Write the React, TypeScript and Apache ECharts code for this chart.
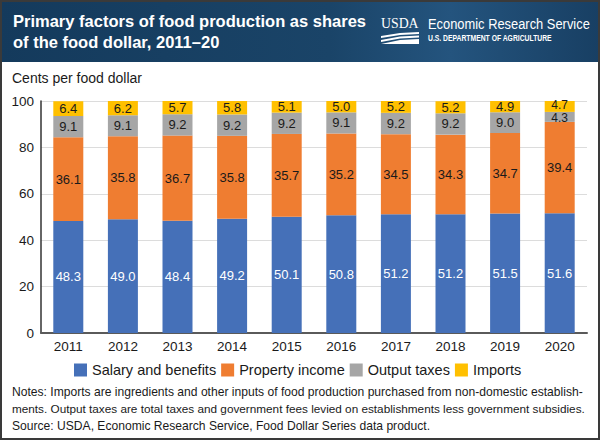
import React, { useEffect, useRef } from "react";
import * as echarts from "echarts";

const years = ["2011", "2012", "2013", "2014", "2015", "2016", "2017", "2018", "2019", "2020"];
const salary = [48.3, 49.0, 48.4, 49.2, 50.1, 50.8, 51.2, 51.2, 51.5, 51.6];
const property = [36.1, 35.8, 36.7, 35.8, 35.7, 35.2, 34.5, 34.3, 34.7, 39.4];
const outputTaxes = [9.1, 9.1, 9.2, 9.2, 9.2, 9.1, 9.2, 9.2, 9.0, 4.3];
const imports = [6.4, 6.2, 5.7, 5.8, 5.1, 5.0, 5.2, 5.2, 4.9, 4.7];
const seriesNames = ["Salary and benefits", "Property income", "Output taxes", "Imports"];
const yTicks = [0, 20, 40, 60, 80, 100];

const FONT = "'Liberation Sans', Arial, Helvetica, sans-serif";

export default function App() {
  const ref = useRef<HTMLDivElement>(null);
  useEffect(() => {
    if (!ref.current) return;
    const chart = echarts.init(ref.current, null, { renderer: "svg" });
    // thin segments (< 5 cents) get a slightly smaller label nudged away from the neighbour
    const tight = (data: number[], dy: number) =>
      data.map((v) => (v < 5 ? { value: v, label: { fontSize: 12, offset: [0, dy] } } : v));
    const mk = (name: string, data: any[], color: string, labelColor: string, lh: number) => ({
      name,
      type: "bar",
      stack: "total",
      data,
      barWidth: 30,
      itemStyle: { color },
      label: {
        show: true,
        position: "inside",
        color: labelColor,
        fontSize: 13,
        lineHeight: lh,
        fontFamily: FONT,
        formatter: (p: any) => Number(p.value).toFixed(1),
      },
    });
    chart.setOption({
      animation: false,
      textStyle: { fontFamily: FONT },
      grid: { left: 41, right: 13, top: 101, bottom: 107, containLabel: false },
      legend: {
        left: 74,
        top: 362,
        itemWidth: 13,
        itemHeight: 13,
        itemGap: 5,
        icon: "rect",
        padding: 0,
        textStyle: { fontSize: 14.5, color: "#1a1a1a", fontFamily: FONT, lineHeight: 16 },
        data: seriesNames,
      },
      xAxis: {
        type: "category",
        data: years,
        axisLine: { lineStyle: { color: "#5a5a5a", width: 2 } },
        axisTick: { show: false },
        axisLabel: { color: "#1a1a1a", fontSize: 13.5, margin: 6, fontFamily: FONT },
      },
      yAxis: {
        type: "value",
        min: yTicks[0],
        max: yTicks[yTicks.length - 1],
        interval: 20,
        axisLine: { show: true, lineStyle: { color: "#333", width: 1.5 } },
        axisTick: { show: false },
        axisLabel: { color: "#1a1a1a", fontSize: 13.5, margin: 7, fontFamily: FONT },
        splitLine: { lineStyle: { color: "#dcdcdc", width: 1 } },
      },
      series: [
        mk(seriesNames[0], salary, "#4570b8", "#ffffff", 13),
        mk(seriesNames[1], property, "#ef7d31", "#1a1a1a", 13),
        mk(seriesNames[2], tight(outputTaxes, 1.5), "#a6a6a6", "#1a1a1a", 10),
        mk(seriesNames[3], imports.map((v, i) => (outputTaxes[i] < 5 ? { value: v, label: { fontSize: 12, offset: [0, -1] } } : v)), "#ffc000", "#1a1a1a", 10),
      ],
      graphic: [
        {
          type: "rect",
          shape: { x: 0, y: 0, width: 600, height: 62 },
          style: {
            fill: new echarts.graphic.LinearGradient(0, 0, 1, 0, [
              { offset: 0, color: "#143a5c" },
              { offset: 0.55, color: "#1a4468" },
              { offset: 0.75, color: "#24547e" },
              { offset: 1, color: "#183f63" },
            ]),
          },
          silent: true,
        },
        {
          type: "text",
          x: 13,
          y: 21,
          style: {
            text: "Primary factors of food production as shares",
            fill: "#ffffff",
            font: `bold 16.5px ${FONT}`,
            textVerticalAlign: "middle",
          },
        },
        {
          type: "text",
          x: 13,
          y: 42,
          style: {
            text: "of the food dollar, 2011–20",
            fill: "#ffffff",
            font: `bold 16.5px ${FONT}`,
            textVerticalAlign: "middle",
          },
        },
        {
          type: "text",
          x: 381,
          y: 23,
          scaleX: 0.92,
          style: {
            text: "USDA",
            fill: "#ffffff",
            font: `15px 'Liberation Serif', 'Times New Roman', serif`,
            textVerticalAlign: "middle",
          },
        },
        {
          type: "polygon",
          shape: { points: [[381, 36], [400, 33], [419, 32], [419, 34], [400, 35], [381, 38]] },
          style: { fill: "#ffffff" },
        },
        {
          type: "polygon",
          shape: { points: [[381, 40], [400, 36.5], [419, 35.5], [419, 37.5], [400, 38.5], [381, 42]] },
          style: { fill: "#ffffff" },
        },
        {
          type: "polygon",
          shape: { points: [[381, 44], [400, 40], [419, 39], [419, 44]] },
          style: { fill: "#ffffff" },
        },
        {
          type: "text",
          x: 428,
          y: 24,
          scaleX: 0.86,
          style: {
            text: "Economic Research Service",
            fill: "#ffffff",
            font: `15px ${FONT}`,
            textVerticalAlign: "middle",
          },
        },
        {
          type: "text",
          x: 428,
          y: 38.5,
          scaleX: 0.8,
          style: {
            text: "U.S. DEPARTMENT OF AGRICULTURE",
            fill: "#ffffff",
            font: `bold 8.5px ${FONT}`,
            textVerticalAlign: "middle",
          },
        },
        {
          type: "text",
          x: 12,
          y: 78,
          style: {
            text: "Cents per food dollar",
            fill: "#1a1a1a",
            font: `14px ${FONT}`,
            textVerticalAlign: "middle",
          },
        },
        {
          type: "text",
          x: 12,
          y: 392,
          style: {
            text: "Notes: Imports are ingredients and other inputs of food production purchased from non-domestic establish-",
            fill: "#1a1a1a",
            font: `12.1px ${FONT}`,
            textVerticalAlign: "middle",
          },
        },
        {
          type: "text",
          x: 12,
          y: 408,
          style: {
            text: "ments. Output taxes are total taxes and government fees levied on establishments less government subsidies.",
            fill: "#1a1a1a",
            font: `11.75px ${FONT}`,
            textVerticalAlign: "middle",
          },
        },
        {
          type: "text",
          x: 12,
          y: 426,
          style: {
            text: "Source: USDA, Economic Research Service, Food Dollar Series data product.",
            fill: "#1a1a1a",
            font: `12.1px ${FONT}`,
            textVerticalAlign: "middle",
          },
        },
        {
          type: "rect",
          shape: { x: 1, y: 1, width: 598, height: 438 },
          style: { fill: "none", stroke: "#3a3a3a", lineWidth: 2 },
          silent: true,
        },
      ],
    });
    return () => chart.dispose();
  }, []);
  return (
    <div
      ref={ref}
      style={{ position: "fixed", left: 0, top: 0, width: 600, height: 440, background: "#ffffff" }}
    />
  );
}
